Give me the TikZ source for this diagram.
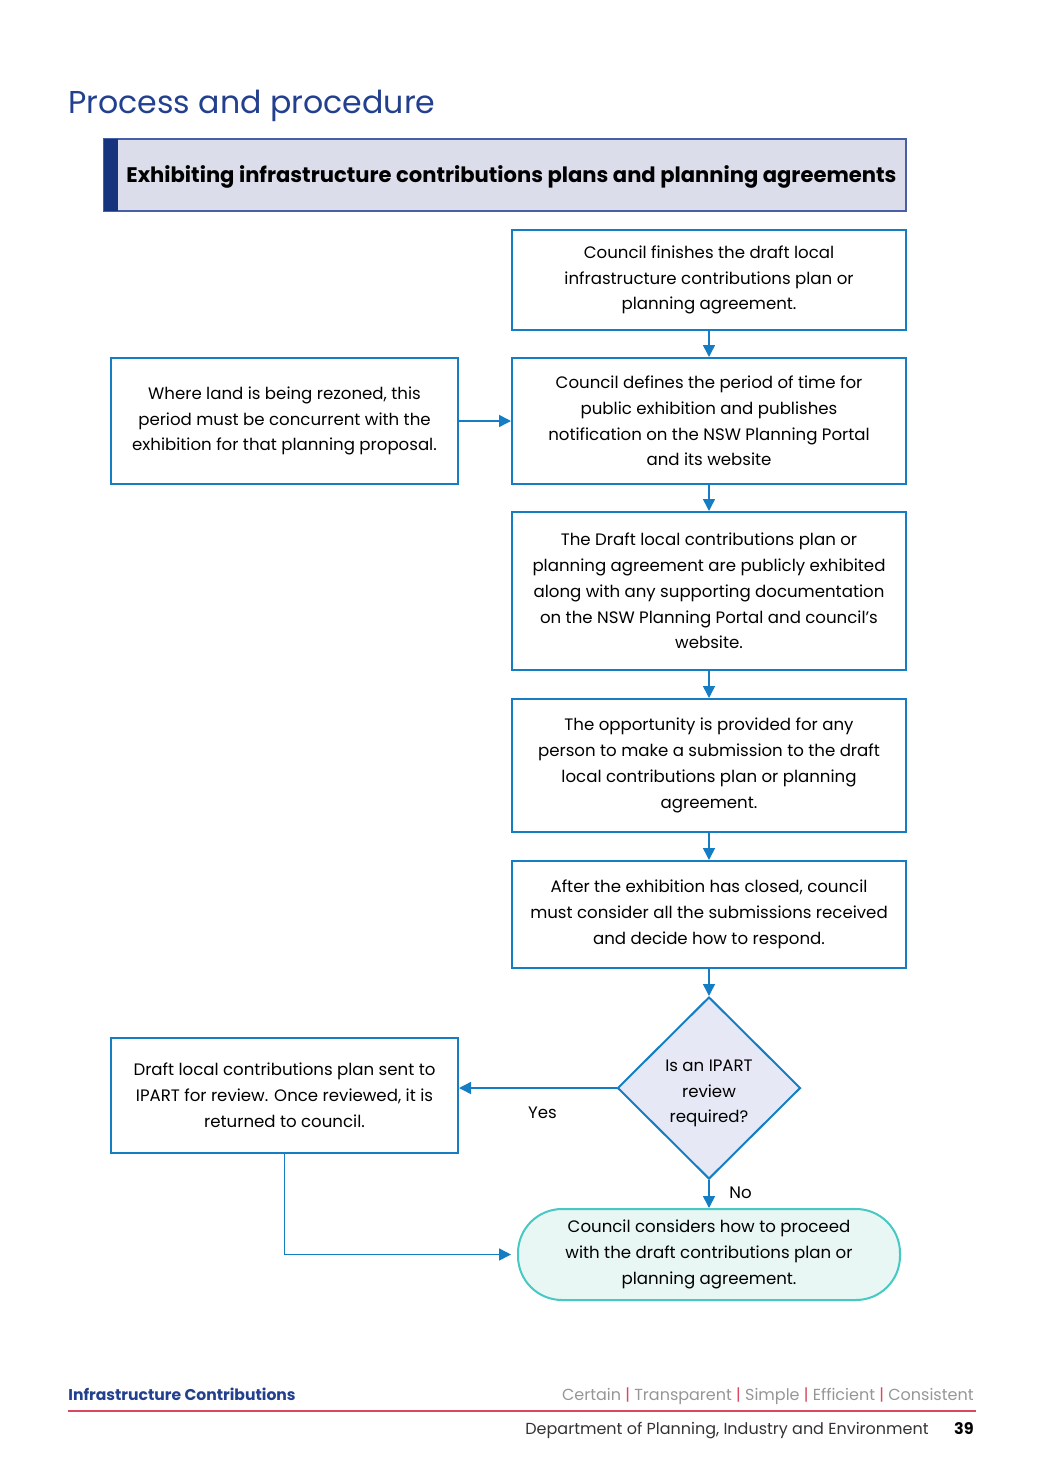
\documentclass[tikz,border=0pt]{standalone}
\usepackage{fontspec}
\setmainfont{Poppins}
\usetikzlibrary{shapes.geometric,arrows.meta}
\definecolor{titleblue}{RGB}{35,64,142}
\definecolor{headfill}{RGB}{220,221,235}
\definecolor{headline}{RGB}{70,95,165}
\definecolor{navy}{RGB}{22,52,125}
\definecolor{flowblue}{RGB}{20,125,195}
\definecolor{askfill}{RGB}{230,233,245}
\definecolor{endline}{RGB}{70,200,195}
\definecolor{endfill}{RGB}{232,246,244}
\definecolor{footred}{RGB}{220,70,95}
\definecolor{footgray}{RGB}{150,150,150}
\tikzset{
  stepbox/.style={draw=flowblue, line width=1pt, rectangle, align=center,
    minimum width=197pt, font=\fontsize{8.3}{12.9}\selectfont, inner sep=0pt},
  sidebox/.style={stepbox, minimum width=173.5pt},
  askbox/.style={draw=flowblue, line width=1pt, diamond, fill=askfill, align=center,
    minimum width=91.5pt, minimum height=91pt, inner sep=0pt,
    font=\fontsize{8.3}{12.9}\selectfont},
  endbox/.style={draw=endline, line width=1pt, fill=endfill, rectangle,
    rounded corners=22pt, align=center, minimum width=191pt, minimum height=45.5pt,
    font=\fontsize{8.3}{12.9}\selectfont},
  link/.style={draw=flowblue, line width=0.75pt, -{Triangle[length=6pt,width=6pt]}},
  lbl/.style={font=\fontsize{8.3}{10}\selectfont}
}
\begin{document}
\begin{tikzpicture}[x=0.5pt,y=-0.5pt]
    \useasboundingbox (0,0) rectangle (1041,1484);
    % heading and banner
    \node[anchor=base west, inner sep=0pt, text=titleblue, font=\fontsize{15.8}{18}\selectfont] (title) at (68,113) {Process and procedure};
    \filldraw[fill=headfill, draw=headline, line width=0.75pt] (104,139) rectangle (906,211);
    \fill[navy] (104,139) rectangle (118,211);
    \node[anchor=west, inner sep=0pt, font=\fontsize{10.55}{13}\selectfont\bfseries] (banner) at (126,177) {Exhibiting infrastructure contributions plans and planning agreements};
    % the steps of the flow
    \node[stepbox, minimum height=50pt] (finish) at (709,280) {Council finishes the draft local\\infrastructure contributions plan or\\planning agreement.};
    \node[stepbox, minimum height=63pt] (define) at (709,421) {Council defines the period of time for\\public exhibition and publishes\\notification on the NSW Planning Portal\\and its website};
    \node[sidebox, minimum height=63pt] (rezone) at (284.5,421) {Where land is being rezoned, this\\period must be concurrent with the\\exhibition for that planning proposal.};
    \node[stepbox, minimum height=79pt] (exhibit) at (709,591) {The Draft local contributions plan or\\planning agreement are publicly exhibited\\along with any supporting documentation\\on the NSW Planning Portal and council's\\website.};
    \node[stepbox, minimum height=66.5pt] (submit) at (709,765.5) {The opportunity is provided for any\\person to make a submission to the draft\\local contributions plan or planning\\agreement.};
    \node[stepbox, minimum height=53.5pt] (closed) at (709,914.5) {After the exhibition has closed, council\\must consider all the submissions received\\and decide how to respond.};
    \node[askbox] (ask) at (709,1088) {\raisebox{-4pt}[0pt][0pt]{\begin{tabular}{@{}c@{}}Is an IPART\\review\\required?\end{tabular}}};
    \node[sidebox, minimum height=57.5pt] (review) at (284.5,1095.5) {Draft local contributions plan sent to\\IPART for review. Once reviewed, it is\\returned to council.};
    \node[endbox] (proceed) at (709,1254.5) {Council considers how to proceed\\with the draft contributions plan or\\planning agreement.};
    % the arrows
    \draw[link] (finish) -- (define);
    \draw[link] (define) -- (exhibit);
    \draw[link] (exhibit) -- (submit);
    \draw[link] (submit) -- (closed);
    \draw[link] (closed) -- (ask);
    \draw[link] (rezone) -- (define);
    \draw[link] (ask.west) -- (ask.west -| review.east) node[lbl, pos=0.47, below=5.5pt] (yes) {Yes};
    \draw[link] (ask) -- (proceed) node[lbl, pos=0.45, right=6.5pt] (no) {No};
    \draw[link] (review.south) |- ([xshift=-3pt]proceed.west);
    % footer
    \node[anchor=base west, inner sep=0pt, text=titleblue, font=\fontsize{7.8}{10}\selectfont\bfseries] (series) at (68,1400) {Infrastructure Contributions};
    \node[anchor=base east, inner sep=0pt, text=footgray, font=\fontsize{8}{10}\selectfont] (motto) at (974,1400) {Certain \textcolor{footred}{|} Transparent \textcolor{footred}{|} Simple \textcolor{footred}{|} Efficient \textcolor{footred}{|} Consistent};
    \draw[footred, line width=0.6pt] (68,1411) -- (976,1411);
    \node[anchor=base east, inner sep=0pt, text=black!80, font=\fontsize{8}{10}\selectfont] (dept) at (929,1434) {Department of Planning, Industry and Environment};
    \node[anchor=base east, inner sep=0pt, font=\fontsize{8}{10}\selectfont\bfseries] (page) at (974,1434) {39};
\end{tikzpicture}
\end{document}
